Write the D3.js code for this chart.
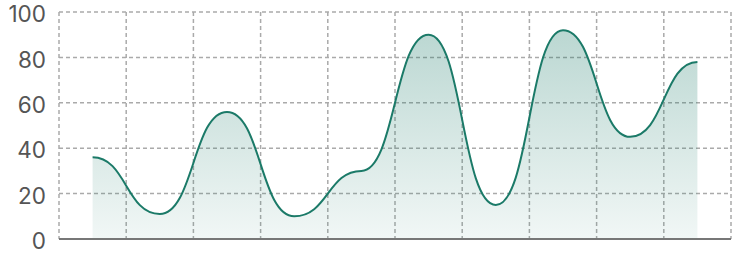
<!DOCTYPE html>
<html>
<head>
<meta charset="utf-8">
<script src="https://cdn.jsdelivr.net/npm/d3@7"></script>
<style>
  body { margin: 0; background: #fff; }
  .grid line { stroke: #aaa; stroke-dasharray: 4 3; stroke-width: 1.5; }
  .ylabel { font-family: Inter, "Noto Sans", sans-serif; font-size: 22.5px; fill: #555; }
</style>
</head>
<body>
<svg width="734" height="253"></svg>
<script>
const categories = ["1", "2", "3", "4", "5", "6", "7", "8", "9", "10"];
const values = [36, 11, 56, 10, 30, 90, 15, 92, 45, 78];
const yTicks = [0, 20, 40, 60, 80, 100];

window.onload = main;

function main() {
  const svg = d3.select("svg");
  const margin = { left: 59, right: 3, top: 12, bottom: 14 };
  const width = +svg.attr("width"),
    height = +svg.attr("height");

  const x = d3
    .scaleBand()
    .domain(categories)
    .range([margin.left, width - margin.right]);
  const y = d3
    .scaleLinear()
    .domain([0, 100])
    .range([height - margin.bottom, margin.top]);

  const defs = svg.append("defs");
  const grad = defs
    .append("linearGradient")
    .attr("id", "fill")
    .attr("x1", 0)
    .attr("y1", 0)
    .attr("x2", 0)
    .attr("y2", 1);
  grad.append("stop").attr("offset", 0).attr("stop-color", "#1b7a68").attr("stop-opacity", 0.3);
  grad.append("stop").attr("offset", 1).attr("stop-color", "#1b7a68").attr("stop-opacity", 0.06);

  // grid
  const grid = svg.append("g").attr("class", "grid");
  const xLines = categories.map((c) => x(c)).concat([x.range()[1]]);
  grid
    .selectAll(".v")
    .data(xLines)
    .enter()
    .append("line")
    .attr("x1", (d) => d)
    .attr("x2", (d) => d)
    .attr("y1", y(100))
    .attr("y2", y(0));
  grid
    .selectAll(".h")
    .data(yTicks.slice(1))
    .enter()
    .append("line")
    .attr("x1", x.range()[0])
    .attr("x2", x.range()[1])
    .attr("y1", (d) => y(d))
    .attr("y2", (d) => y(d));

  const cx = (d, i) => x(categories[i]) + x.bandwidth() / 2;

  const area = d3
    .area()
    .x(cx)
    .y0(y(0))
    .y1((d) => y(d))
    .curve(d3.curveBumpX);
  svg.append("path").datum(values).attr("d", area).attr("fill", "url(#fill)");

  const line = d3
    .line()
    .x(cx)
    .y((d) => y(d))
    .curve(d3.curveBumpX);
  svg
    .append("path")
    .datum(values)
    .attr("d", line)
    .attr("fill", "none")
    .attr("stroke", "#1b7a68")
    .attr("stroke-width", 2);

  // bottom axis line
  svg
    .append("line")
    .attr("x1", x.range()[0])
    .attr("x2", x.range()[1])
    .attr("y1", y(0))
    .attr("y2", y(0))
    .attr("stroke", "#777")
    .attr("stroke-width", 2);

  svg
    .selectAll(".ylabel")
    .data(yTicks)
    .enter()
    .append("text")
    .attr("class", "ylabel")
    .attr("x", 46)
    .attr("y", (d) => y(d) + 2)
    .attr("dy", "0.36em")
    .attr("text-anchor", "end")
    .text((d) => d);
}
</script>
</body>
</html>
